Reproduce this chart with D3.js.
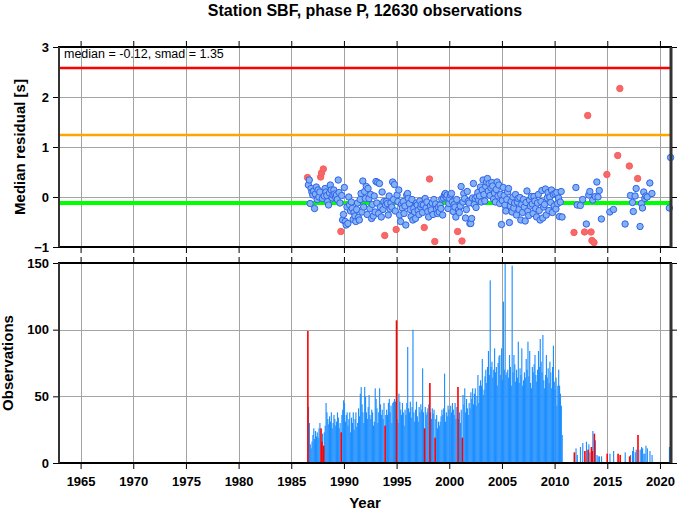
<!DOCTYPE html>
<html><head><meta charset="utf-8">
<script src="https://cdn.jsdelivr.net/npm/d3@7"></script>
<style>
body{margin:0;background:#fff}
svg{display:block}
text{font-family:"Liberation Sans",Arial,Helvetica,sans-serif}
</style>
</head><body>
<svg id="c" width="677" height="511"></svg>
<script>
// ---------- DATA ----------
const titleText = "Station SBF, phase P, 12630 observations";
const statsText = "median = -0.12, smad = 1.35";
const medianLine = -0.12;
const orangeLine = 1.24;
const redLine = 2.58;
const xTickYears = [1965,1970,1975,1980,1985,1990,1995,2000,2005,2010,2015,2020];
const yTicksTop = [-1,0,1,2,3];
const yTicksBot = [0,50,100,150];

// dense era: monthly bins starting 1986.5
const firstBin = 1986.5;
const binWidth = 1/12;
const residuals = [
  0.39, 0.24, 0.34, -0.13, 0.17, 0.10,
  0.04, 0.12, -0.23, 0.06, 0.20, -0.05, 0.14, 0.00, 0.10, 0.40, 0.48, -0.03,
  0.56, 0.02, 0.17, 0.10, 0.03, -0.09, -0.16, 0.08, 0.24, 0.14, -0.02, 0.04,
  0.14, 0.06, 0.00, 0.04, -0.05, 0.34, 0.09, -0.12, -0.69, 0.03, -0.46, -0.35,
  0.19, -0.49, -0.56, -0.20, -0.53, 0.00, -0.16, -0.28, -0.10, -0.23, -0.45, -0.31,
  -0.38, -0.49, -0.25, -0.12, -0.41, -0.46, -0.05, 0.07, -0.30, 0.32, -0.20, 0.11,
  -0.03, 0.21, -0.35, 0.17, -0.03, -0.23, 0.05, -0.43, -0.15, -0.38, 0.02, -0.30,
  0.31, -0.12, 0.29, -0.33, 0.27, -0.20, -0.40, 0.10, -0.25, -0.09, -0.77, -0.16,
  -0.09, -0.13, -0.36, 0.02, -0.24, -0.12, -0.20, 0.30, -0.05, 0.25, -0.28, -0.65,
  0.04, -0.09, 0.14, -0.36, -0.49, -0.15, -0.22, -0.09, -0.33, -0.18, -0.56, 0.04,
  0.07, -0.03, -0.13, -0.25, -0.39, -0.05, -0.46, -0.23, -0.30, -0.43, -0.12, -0.16,
  -0.27, -0.35, -0.08, -0.20, -0.15, -0.31, -0.16, -0.61, -0.03, -0.22, -0.10, -0.29,
  -0.40, 0.36, -0.18, -0.26, -0.12, -0.35, -0.05, -0.89, -0.14, -0.24, -0.33, -0.20,
  -0.30, -0.16, -0.23, -0.04, -0.36, -0.02, 0.04, 0.07, 0.00, 0.04, -0.23, -0.13,
  -0.03, 0.04, 0.07, -0.10, -0.29, -0.15, -0.20, -0.40, -0.05, -0.69, -0.26, -0.31,
  -0.18, 0.21, -0.88, -0.10, 0.07, -0.03, -0.42, -0.25, 0.11, -0.09, -0.12, -0.53,
  -0.53, -0.43, -0.02, 0.27, -0.15, -0.03, -0.21, 0.01, 0.09, -0.06, 0.02, 0.20,
  -0.10, 0.14, 0.34, 0.05, -0.08, 0.21, 0.30, 0.37, 0.12, 0.27, 0.03, 0.18,
  0.29, 0.22, -0.04, 0.08, -0.10, 0.15, 0.30, 0.02, 0.24, -0.13, 0.05, -0.55,
  -0.07, 0.19, 0.03, -0.16, -0.28, -0.05, 0.10, 0.17, -0.51, -0.18, -0.09, -0.30,
  0.00, -0.22, -0.12, 0.05, -0.36, -0.10, -0.03, -0.25, -0.01, -0.46, -0.15, -0.31,
  -0.05, -0.20, -0.48, -0.11, 0.12, -0.28, -0.37, -0.06, -0.18, 0.01, -0.14, -0.33,
  0.01, -0.08, -0.23, -0.40, -0.12, 0.05, -0.27, -0.46, -0.09, 0.13, -0.42, -0.20,
  -0.15, 0.16, -0.36, -0.02, 0.09, -0.27, 0.00, -0.11, 0.14, -0.31, 0.05, -0.18,
  0.07, -0.24, 0.09, -0.13, -0.02, -0.39, -0.10, 0.11, -0.40
];
const counts = [
  99, 42, 30, 14, 11, 16,
  21, 26, 18, 24, 20, 23, 19, 26, 30, 26, 16, 22,
  13, 23, 28, 45, 38, 33, 29, 35, 31, 38, 26, 30,
  36, 33, 28, 31, 38, 34, 26, 30, 23, 36, 40, 47,
  45, 31, 36, 38, 28, 33, 38, 23, 34, 30, 38, 25,
  33, 38, 27, 30, 41, 35, 52, 57, 44, 38, 30, 57,
  50, 38, 33, 42, 51, 36, 33, 40, 38, 28, 31, 56,
  48, 41, 30, 38, 56, 44, 36, 40, 33, 45, 28, 36,
  40, 36, 45, 48, 38, 43, 30, 45, 46, 48, 46, 107,
  33, 30, 52, 46, 40, 36, 45, 38, 28, 40, 36, 45,
  87, 41, 38, 46, 34, 42, 100, 38, 31, 40, 46, 35,
  31, 42, 38, 44, 40, 71, 38, 26, 42, 36, 38, 41,
  44, 60, 38, 33, 41, 37, 40, 19, 33, 36, 26, 31,
  28, 31, 35, 40, 36, 41, 67, 31, 38, 35, 43, 40,
  35, 43, 38, 45, 40, 36, 45, 33, 42, 57, 33, 38,
  30, 40, 19, 51, 44, 56, 38, 48, 41, 36, 45, 41,
  53, 48, 56, 44, 52, 56, 43, 50, 66, 45, 58, 62,
  58, 78, 51, 55, 65, 70, 60, 72, 84, 66, 137, 72,
  76, 64, 70, 86, 68, 72, 58, 75, 80, 81, 66, 86,
  62, 121, 70, 150, 66, 68, 70, 64, 81, 72, 58, 148,
  68, 81, 74, 61, 70, 64, 91, 60, 71, 66, 86, 58,
  62, 68, 64, 78, 70, 91, 65, 84, 60, 56, 72, 68,
  74, 81, 66, 61, 70, 84, 72, 93, 76, 68, 96, 62,
  56, 66, 81, 64, 71, 60, 76, 68, 56, 72, 88, 61,
  55, 64, 43, 58, 70, 58, 52, 43, 21
];
// indices of flagged (red) bins in the dense era
const redBins = [0, 15, 16, 18, 38, 88, 101, 133, 139, 145, 171, 176];

// sparse era
const lateYears = [2011.80,2011.98,2012.10,2012.40,2012.62,2012.80,2012.97,2013.10,2013.20,2013.30,2013.42,2013.50,2013.58,2013.70,2013.82,2013.97,2014.08,2014.20,2014.40,2014.92,2015.20,2015.55,2015.95,2016.15,2016.65,2017.05,2017.16,2017.35,2017.43,2017.60,2017.70,2017.84,2018.07,2018.20,2018.30,2018.42,2018.52,2018.62,2018.75,2019.00,2019.20,2020.85,2020.97];
const lateResiduals = [-0.71,0.19,-0.16,-0.17,-0.05,-0.70,-0.54,1.63,0.04,0.11,-0.70,-0.87,-0.06,-0.91,0.01,0.30,0.00,0.13,-0.44,0.45,-0.30,-0.25,0.83,2.17,-0.54,0.62,0.03,-0.11,-0.29,0.02,0.17,0.37,-0.59,-0.13,-0.22,0.10,-0.03,0.02,0.00,0.28,0.07,-0.22,0.79];
const lateCounts = [8,11,6,12,15,9,16,10,14,8,12,9,24,22,17,6,5,5,5,7,7,9,7,6,8,5,6,9,12,8,10,21,10,12,11,7,7,13,11,9,6,12,7];
const lateRed = [1,0,0,0,0,1,0,1,0,0,1,1,0,1,0,0,0,0,0,1,0,0,1,1,0,1,0,0,0,0,0,1,0,0,0,0,0,0,0,0,0,0,0];

// ---------- BUILD ----------
const bins = residuals.map((r,i)=>({t:firstBin+i*binWidth, r:r, n:counts[i], red:redBins.includes(i)}));
lateYears.forEach((t,i)=>bins.push({t:t, r:lateResiduals[i], n:lateCounts[i], red:lateRed[i]===1}));

const svg = d3.select("#c");
const L=59, R=671, T1=47, B1=247, T2=263, B2=463;
const x = d3.scaleLinear().domain([1962.95,2021.05]).range([L,R]);
const yTop = d3.scaleLinear().domain([-1,3]).range([B1,T1]);
const yBot = d3.scaleLinear().domain([0,150]).range([B2,T2]);

const FONT = '"Liberation Sans",Arial,Helvetica,sans-serif';
const gridColor = "#a3a3a3";

// Title
svg.append("text").attr("x",(L+R)/2).attr("y",16).attr("text-anchor","middle")
  .attr("font-size",16).attr("font-weight","bold").text(titleText);

// ---- grids ----
function vgrid(top,bottom){
  svg.append("g").selectAll("line").data(xTickYears).join("line")
    .attr("x1",d=>Math.round(x(d))+0.5).attr("x2",d=>Math.round(x(d))+0.5)
    .attr("y1",top).attr("y2",bottom).attr("stroke",gridColor).attr("stroke-width",1);
}
vgrid(T1,B1); vgrid(T2,B2);
svg.append("g").selectAll("line").data(yTicksTop.slice(1,-1)).join("line")
  .attr("x1",L).attr("x2",R).attr("y1",d=>Math.round(yTop(d))+0.5).attr("y2",d=>Math.round(yTop(d))+0.5)
  .attr("stroke",gridColor).attr("stroke-width",1);
svg.append("g").selectAll("line").data(yTicksBot.slice(1,-1)).join("line")
  .attr("x1",L).attr("x2",R).attr("y1",d=>Math.round(yBot(d))+0.5).attr("y2",d=>Math.round(yBot(d))+0.5)
  .attr("stroke",gridColor).attr("stroke-width",1);

// ---- reference lines ----
[[redLine,"#ff0000",2.5],[orangeLine,"#ffa500",2.5],[medianLine,"#00ff00",4]].forEach(([v,c,w])=>{
  svg.append("line").attr("x1",L).attr("x2",R).attr("y1",yTop(v)).attr("y2",yTop(v))
    .attr("stroke",c).attr("stroke-width",w);
});

// ---- bars ----
const pxBin = x(firstBin+binWidth)-x(firstBin);
const blueBins = bins.filter(d=>!d.red), redList = bins.filter(d=>d.red);
svg.append("g").selectAll("rect").data(blueBins).join("rect")
  .attr("x",d=>x(d.t)).attr("width",pxBin*1.3)
  .attr("y",d=>yBot(Math.min(d.n,150))).attr("height",d=>yBot(0)-yBot(Math.min(d.n,150)))
  .attr("fill","#1e8fff");
svg.append("g").selectAll("rect").data(redList).join("rect")
  .attr("x",d=>x(d.t)).attr("width",1.6)
  .attr("y",d=>yBot(Math.min(d.n,150))).attr("height",d=>yBot(0)-yBot(Math.min(d.n,150)))
  .attr("fill","#ff0000");

// ---- dots ----
svg.append("g").selectAll("circle").data(bins).join("circle")
  .attr("cx",d=>x(d.t+binWidth/2)).attr("cy",d=>yTop(d.r)).attr("r",3.2)
  .attr("fill",d=>d.red?"#f46a6a":"#82b2f2")
  .attr("stroke",d=>d.red?"#ff5c5c":"#3162ee").attr("stroke-width",1);

// ---- frames ----
function frame(top,bottom){
  svg.append("line").attr("x1",L-1).attr("x2",R+1).attr("y1",top).attr("y2",top).attr("stroke","#000").attr("stroke-width",2);
  svg.append("line").attr("x1",L-1).attr("x2",R+1).attr("y1",bottom).attr("y2",bottom).attr("stroke","#000").attr("stroke-width",2);
  svg.append("line").attr("x1",L).attr("x2",L).attr("y1",top).attr("y2",bottom).attr("stroke","#333").attr("stroke-width",2);
  svg.append("line").attr("x1",R).attr("x2",R).attr("y1",top).attr("y2",bottom).attr("stroke","#333").attr("stroke-width",3);
}
frame(T1,B1); frame(T2,B2);

// ---- axes / ticks ----
function styleAxis(g, labels){
  g.select(".domain").remove();
  g.selectAll("line").attr("stroke","#000").attr("stroke-width",1);
  g.selectAll("text").attr("font-size",13).attr("font-weight","bold").attr("fill","#000").attr("font-family",FONT);
  if(!labels) g.selectAll("text").remove();
}
const xf = d3.format("d");
svg.append("g").attr("transform",`translate(0,${T1-1})`).call(d3.axisTop(x).tickValues(xTickYears).tickSize(5)).call(g=>styleAxis(g,false));
svg.append("g").attr("transform",`translate(0,${B1+1})`).call(d3.axisBottom(x).tickValues(xTickYears).tickSize(5)).call(g=>styleAxis(g,false));
svg.append("g").attr("transform",`translate(0,${T2-1})`).call(d3.axisTop(x).tickValues(xTickYears).tickSize(5)).call(g=>styleAxis(g,false));
svg.append("g").attr("transform",`translate(0,${B2+1})`).call(d3.axisBottom(x).tickValues(xTickYears).tickSize(5).tickPadding(8).tickFormat(xf)).call(g=>styleAxis(g,true));
svg.append("g").attr("transform",`translate(${L-1},0)`).call(d3.axisLeft(yTop).tickValues(yTicksTop).tickSize(5).tickPadding(4).tickFormat(xf)).call(g=>styleAxis(g,true));
svg.append("g").attr("transform",`translate(${R+1},0)`).call(d3.axisRight(yTop).tickValues(yTicksTop).tickSize(5)).call(g=>styleAxis(g,false));
svg.append("g").attr("transform",`translate(${L-1},0)`).call(d3.axisLeft(yBot).tickValues(yTicksBot).tickSize(5).tickPadding(4).tickFormat(xf)).call(g=>styleAxis(g,true));
svg.append("g").attr("transform",`translate(${R+1},0)`).call(d3.axisRight(yBot).tickValues(yTicksBot).tickSize(5)).call(g=>styleAxis(g,false));

// ---- labels ----
svg.append("text").attr("x",64).attr("y",58).attr("font-size",12.5).text(statsText);
svg.append("text").attr("transform",`translate(25,${(T1+B1)/2}) rotate(-90)`).attr("text-anchor","middle")
  .attr("font-size",15).attr("font-weight","bold").text("Median residual [s]");
svg.append("text").attr("transform",`translate(13,${(T2+B2)/2}) rotate(-90)`).attr("text-anchor","middle")
  .attr("font-size",15).attr("font-weight","bold").text("Observations");
svg.append("text").attr("x",(L+R)/2).attr("y",508).attr("text-anchor","middle")
  .attr("font-size",15).attr("font-weight","bold").text("Year");
</script>
</body></html>
